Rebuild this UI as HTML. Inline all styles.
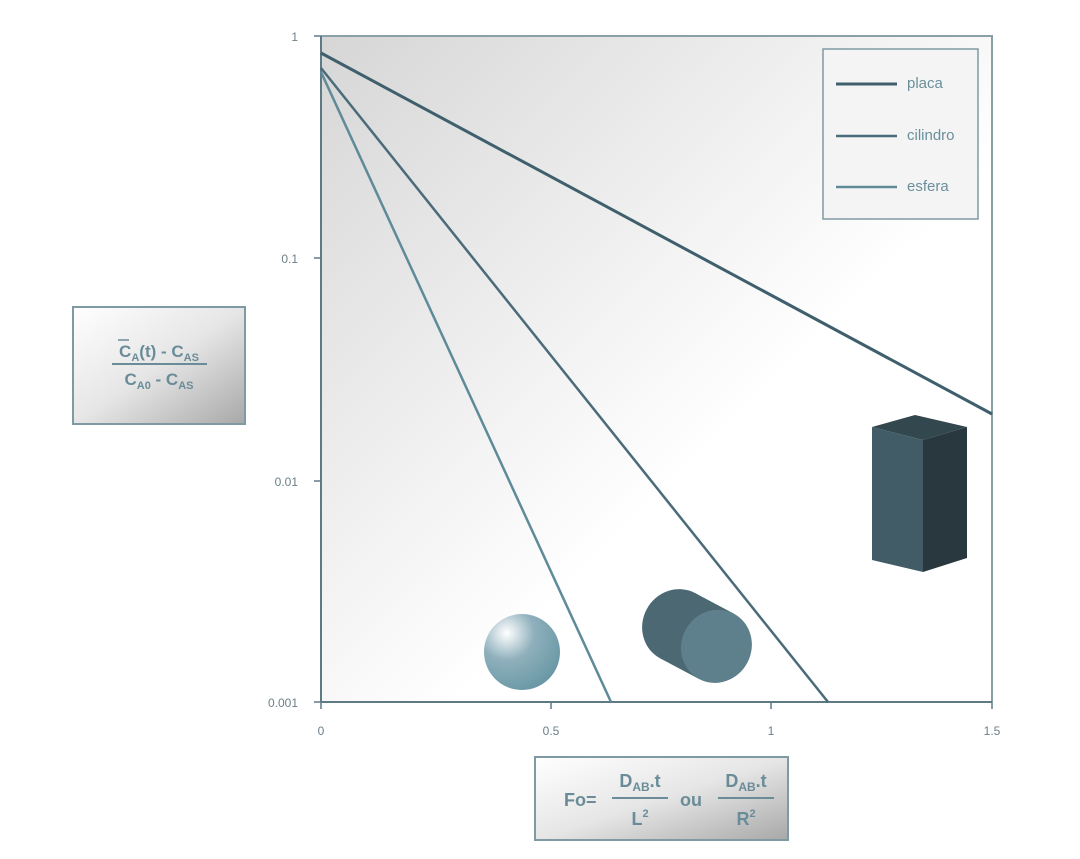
<!DOCTYPE html>
<html><head><meta charset="utf-8"><style>
body{margin:0;background:#fff;width:1080px;height:854px;overflow:hidden;font-family:"Liberation Sans",sans-serif}
</style></head><body>
<svg width="1080" height="854" xmlns="http://www.w3.org/2000/svg" font-family="Liberation Sans, sans-serif">
<defs>
<linearGradient id="bg" x1="0" y1="0" x2="1" y2="1">
<stop offset="0" stop-color="#d6d6d6"/><stop offset="0.6" stop-color="#ffffff"/><stop offset="1" stop-color="#ffffff"/></linearGradient>
<linearGradient id="bx" x1="0" y1="0" x2="1" y2="1">
<stop offset="0" stop-color="#ffffff"/><stop offset="0.5" stop-color="#e6e6e6"/><stop offset="1" stop-color="#a8a8a8"/></linearGradient>
<radialGradient id="sp" cx="0.3" cy="0.25" r="0.8">
<stop offset="0" stop-color="#ffffff"/><stop offset="0.45" stop-color="#8fb0bc"/><stop offset="1" stop-color="#6a98a6"/></radialGradient>
</defs>
<rect x="321" y="36" width="671" height="666" fill="url(#bg)"/>
<polyline points="321,36 992,36 992,702" fill="none" stroke="#8aa0a8" stroke-width="2"/>
<line x1="321" y1="36" x2="321" y2="702" stroke="#5d7a85" stroke-width="2"/>
<line x1="321" y1="702" x2="992" y2="702" stroke="#5d7a85" stroke-width="2"/>
<g stroke="#5d7a85" stroke-width="1.5">
<line x1="314" y1="36" x2="321" y2="36"/><line x1="314" y1="258" x2="321" y2="258"/>
<line x1="314" y1="481" x2="321" y2="481"/><line x1="314" y1="702" x2="321" y2="702"/>
<line x1="321" y1="702" x2="321" y2="709"/><line x1="551" y1="702" x2="551" y2="709"/>
<line x1="771" y1="702" x2="771" y2="709"/><line x1="992" y1="702" x2="992" y2="709"/>
</g>
<g fill="#6b7f87" font-size="12">
<text x="298" y="41" text-anchor="end">1</text>
<text x="298" y="263" text-anchor="end">0.1</text>
<text x="298" y="486" text-anchor="end">0.01</text>
<text x="298" y="707" text-anchor="end">0.001</text>
<text x="321" y="735" text-anchor="middle">0</text>
<text x="551" y="735" text-anchor="middle">0.5</text>
<text x="771" y="735" text-anchor="middle">1</text>
<text x="992" y="735" text-anchor="middle">1.5</text>
</g>
<line x1="321" y1="53" x2="992" y2="414" stroke="#3e5f6b" stroke-width="3"/>
<line x1="321" y1="68" x2="828" y2="702" stroke="#4a6c78" stroke-width="2.5"/>
<line x1="321" y1="72" x2="611" y2="702" stroke="#5f8a98" stroke-width="2.5"/>
<rect x="823" y="49" width="155" height="170" fill="#f4f4f4" stroke="#7f9aa3" stroke-width="1.5"/>
<line x1="836" y1="84" x2="897" y2="84" stroke="#3e5f6b" stroke-width="3"/>
<line x1="836" y1="136" x2="897" y2="136" stroke="#4a6c78" stroke-width="2.5"/>
<line x1="836" y1="187" x2="897" y2="187" stroke="#5f8a98" stroke-width="2.5"/>
<g fill="#6a8f9b" font-size="15"><text x="907" y="88">placa</text><text x="907" y="140">cilindro</text><text x="907" y="191">esfera</text></g>
<polygon points="872,427 915,415 967,427 923,440" fill="#33474f"/>
<polygon points="872,427 923,440 923,572 872,560" fill="#425c67"/>
<polygon points="923,440 967,427 967,558 923,572" fill="#29383f"/>
<circle cx="522" cy="652" r="38" fill="url(#sp)"/>
<g transform="rotate(28 697 636)">
<rect x="675" y="599" width="44" height="74" fill="#4b6873"/>
<ellipse cx="675" cy="636" rx="35" ry="37" fill="#4b6873"/>
<ellipse cx="719" cy="636" rx="35" ry="37" fill="#5e7f8c"/>
</g>
<rect x="73" y="307" width="172" height="117" fill="url(#bx)" stroke="#7f9aa3" stroke-width="2"/>
<g fill="#6a8c98" font-weight="bold" font-size="17">
<text x="159" y="357" text-anchor="middle">C<tspan font-size="11" dy="4">A</tspan><tspan dy="-4">(t) - C</tspan><tspan font-size="11" dy="4">AS</tspan></text>
<line x1="118" y1="340" x2="129" y2="340" stroke="#6a8c98" stroke-width="1.5"/>
<rect x="112" y="363" width="95" height="2"/>
<text x="159" y="385" text-anchor="middle">C<tspan font-size="11" dy="4">A0</tspan><tspan dy="-4"> - C</tspan><tspan font-size="11" dy="4">AS</tspan></text>
</g>
<rect x="535" y="757" width="253" height="83" fill="url(#bx)" stroke="#7f9aa3" stroke-width="2"/>
<g fill="#6a8c98" font-weight="bold" font-size="18">
<text x="564" y="806">Fo=</text>
<text x="640" y="787" text-anchor="middle">D<tspan font-size="12" dy="4">AB</tspan><tspan dy="-4">.t</tspan></text>
<rect x="612" y="797" width="56" height="2"/>
<text x="640" y="825" text-anchor="middle">L<tspan font-size="11" dy="-8">2</tspan></text>
<text x="680" y="806">ou</text>
<text x="746" y="787" text-anchor="middle">D<tspan font-size="12" dy="4">AB</tspan><tspan dy="-4">.t</tspan></text>
<rect x="718" y="797" width="56" height="2"/>
<text x="746" y="825" text-anchor="middle">R<tspan font-size="11" dy="-8">2</tspan></text>
</g>
</svg>
</body></html>
